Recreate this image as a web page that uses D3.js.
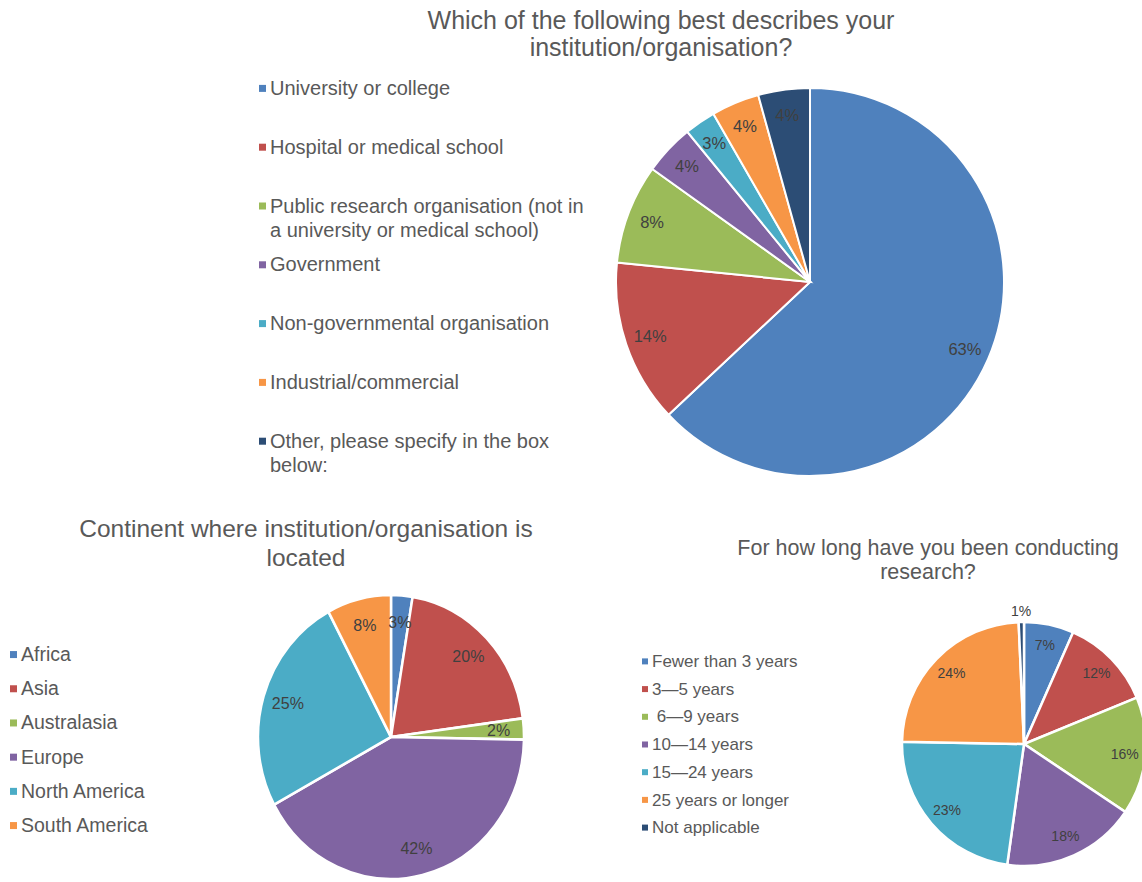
<!DOCTYPE html>
<html>
<head>
<meta charset="utf-8">
<script src="https://cdn.jsdelivr.net/npm/d3@7"></script>
<style>
  body { margin: 0; background: #fff; }
  svg text { font-family: "Liberation Sans", Arial, sans-serif; white-space: pre; }
</style>
</head>
<body>
<div id="chart"></div>
<script>
// survey answers, shares in percent
const instTypes = ["University or college", "Hospital or medical school",
    "Public research organisation (not in a university or medical school)",
    "Government", "Non-governmental organisation", "Industrial/commercial",
    "Other, please specify in the box below:"];
const instShares = [63.0, 13.6, 8.3, 4.2, 2.6, 4.0, 4.3];

const continents = ["Africa", "Asia", "Australasia", "Europe", "North America", "South America"];
const continentShares = [2.6, 20.3, 2.4, 41.8, 25.1, 7.8];

const researchYears = ["Fewer than 3 years", "3\u20145 years", " 6\u20149 years", "10\u201414 years",
    "15\u201424 years", "25 years or longer", "Not applicable"];
const researchShares = [6.6, 12.2, 15.6, 17.8, 23.1, 24.0, 0.7];

const palette = ["#4f81bd", "#c0504d", "#9bbb59", "#8064a2", "#4bacc6", "#f79646", "#2c4d75"];

window.onload = () => {
    var width = 1142, height = 882;
    var svg = d3.select("#chart").append("svg")
        .attr("width", width)
        .attr("height", height);

    var pie = d3.pie().sort(null).value(d => d);
    var color = d3.scaleOrdinal().range(palette);

    // wrap legend text onto several lines
    function wrap(textSel, maxW, lineH) {
        textSel.each(function() {
            var t = d3.select(this), words = t.text().split(" "), x = t.attr("x");
            t.text(null);
            var line = [], ts = t.append("tspan").attr("x", x).attr("dy", 0);
            words.forEach(w => {
                line.push(w);
                ts.text(line.join(" "));
                if (ts.node().getComputedTextLength() > maxW && line.length > 1) {
                    line.pop();
                    ts.text(line.join(" "));
                    line = [w];
                    ts = t.append("tspan").attr("x", x).attr("dy", lineH).text(w);
                }
            });
        });
    }

    function drawPie(cfg) {
        var g = svg.append("g").attr("transform", "translate(" + cfg.cx + "," + cfg.cy + ")");
        var sy = cfg.ry / cfg.r;
        var arc = d3.arc().innerRadius(0).outerRadius(cfg.r);
        var arcs = pie(cfg.values);

        g.append("g")
            .attr("transform", "scale(1," + sy + ")")
            .selectAll("path")
            .data(arcs)
            .enter()
            .append("path")
            .attr("d", arc)
            .attr("fill", (d, i) => color(i))
            .attr("stroke", "#fff")
            .attr("stroke-width", cfg.stroke);

        var labelArc = d3.arc().innerRadius(cfg.r * cfg.lf).outerRadius(cfg.r * cfg.lf);
        var outArc = d3.arc().innerRadius(cfg.r * 1.09).outerRadius(cfg.r * 1.09);
        g.selectAll("text.pct")
            .data(arcs)
            .enter()
            .append("text")
            .attr("class", "pct")
            .attr("x", d => (d.value < 1 ? outArc : labelArc).centroid(d)[0])
            .attr("y", d => (d.value < 1 ? outArc : labelArc).centroid(d)[1] * sy)
            .attr("text-anchor", "middle")
            .attr("dominant-baseline", "central")
            .attr("font-size", cfg.labelSize)
            .attr("fill", "#404040")
            .text(d => Math.round(d.value) + "%");

        var title = svg.append("text")
            .attr("x", cfg.titleX)
            .attr("y", cfg.titleY)
            .attr("text-anchor", "middle")
            .attr("font-size", cfg.titleSize)
            .attr("fill", "#595959");
        cfg.title.forEach((l, i) => {
            title.append("tspan").attr("x", cfg.titleX).attr("dy", i ? cfg.titleLine : 0).text(l);
        });

        var leg = svg.append("g").selectAll("g")
            .data(cfg.names)
            .enter()
            .append("g")
            .attr("transform", (d, i) => "translate(" + cfg.legX + "," + (cfg.legY + i * cfg.legStep) + ")");
        leg.append("rect")
            .attr("x", 0)
            .attr("y", -cfg.legSize * 0.33 - cfg.sq / 2)
            .attr("width", cfg.sq)
            .attr("height", cfg.sq)
            .attr("fill", (d, i) => color(i));
        var lt = leg.append("text")
            .attr("x", cfg.sq + 4)
            .attr("y", 0)
            .attr("font-size", cfg.legSize)
            .attr("fill", "#595959")
            .text(d => d);
        if (cfg.wrapW) wrap(lt, cfg.wrapW, 24);
    }

    drawPie({
        values: instShares, names: instTypes,
        cx: 810, cy: 282, r: 194, ry: 194, lf: 0.87, stroke: 2, labelSize: 16.5,
        title: ["Which of the following best describes your", "institution/organisation?"],
        titleX: 661, titleY: 29, titleSize: 25, titleLine: 27,
        legX: 259, legY: 95, legStep: 58.8, legSize: 20, sq: 7, wrapW: 322
    });

    drawPie({
        values: continentShares, names: continents,
        cx: 391, cy: 737, r: 133, ry: 142, lf: 0.81, stroke: 2.5, labelSize: 16,
        title: ["Continent where institution/organisation is", "located"],
        titleX: 306, titleY: 537, titleSize: 24.5, titleLine: 29,
        legX: 10, legY: 661, legStep: 34.2, legSize: 19.5, sq: 7
    });

    drawPie({
        values: researchShares, names: researchYears,
        cx: 1024, cy: 744, r: 122, ry: 122, lf: 0.83, stroke: 2.5, labelSize: 14,
        title: ["For how long have you been conducting", "research?"],
        titleX: 928, titleY: 555, titleSize: 21.5, titleLine: 24,
        legX: 642, legY: 667, legStep: 27.7, legSize: 17, sq: 6
    });
};
</script>
</body>
</html>
